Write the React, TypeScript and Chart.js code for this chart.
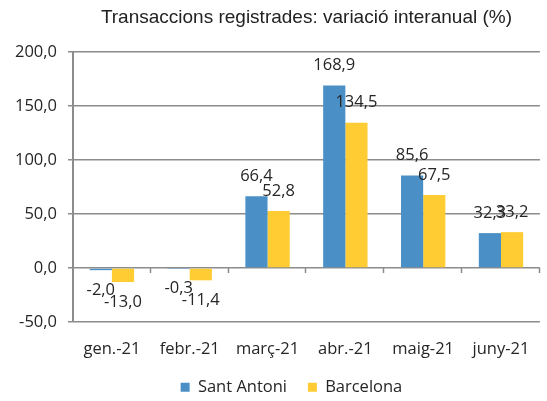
import React, { useEffect, useRef } from "react";
import { Chart, registerables } from "chart.js";

Chart.register(...registerables);

const TITLE = "Transaccions registrades: variació interanual (%)";
const CATEGORIES = ["gen.-21", "febr.-21", "març-21", "abr.-21", "maig-21", "juny-21"];
const SANT_ANTONI = [-2.0, -0.3, 66.4, 168.9, 85.6, 32.3];
const BARCELONA = [-13.0, -11.4, 52.8, 134.5, 67.5, 33.2];
const SERIES_NAMES = ["Sant Antoni", "Barcelona"];
const Y_MIN = -50;
const Y_MAX = 200;
const Y_STEP = 50;

const BLUE = "#4A8FC6";
const YELLOW = "#FFCC33";
const GRID = "#8c8c8c";
const TEXT = "#262626";
const FONT = "'Open Sans', 'Noto Sans', sans-serif";
const FS = 16.5;

const fmt = (v: number) => v.toFixed(1).replace(".", ",");

const valueLabels = {
  id: "valueLabels",
  afterDatasetsDraw(chart: any) {
    const ctx = chart.ctx;
    ctx.save();
    ctx.font = `${FS}px ${FONT}`;
    ctx.fillStyle = TEXT;
    ctx.textAlign = "center";
    ctx.textBaseline = "middle";
    chart.data.datasets.forEach((ds: any, di: number) => {
      const meta = chart.getDatasetMeta(di);
      meta.data.forEach((bar: any, i: number) => {
        const v = ds.data[i];
        const y = v >= 0 ? bar.y - 20 : bar.y + 20;
        ctx.fillText(fmt(v), bar.x, y);
      });
    });
    ctx.restore();
  },
};

const zeroTicks = {
  id: "zeroTicks",
  afterDraw(chart: any) {
    const { ctx, chartArea } = chart;
    const y0 = chart.scales.y.getPixelForValue(0);
    const n = CATEGORIES.length;
    const w = (chartArea.right - chartArea.left) / n;
    ctx.save();
    ctx.strokeStyle = GRID;
    ctx.lineWidth = 1.5;
    for (let i = 1; i <= n; i++) {
      const x = Math.round(chartArea.left + i * w) - 0.5;
      ctx.beginPath();
      ctx.moveTo(x, y0);
      ctx.lineTo(x, y0 + 5);
      ctx.stroke();
    }
    ctx.restore();
  },
};

export default function App() {
  const ref = useRef<HTMLCanvasElement | null>(null);

  useEffect(() => {
    document.body.style.margin = "0";
    if (!ref.current) return;
    const chart = new Chart(ref.current, {
      type: "bar",
      data: {
        labels: CATEGORIES,
        datasets: [
          {
            label: SERIES_NAMES[0] + "   ",
            data: SANT_ANTONI,
            backgroundColor: BLUE,
            categoryPercentage: 0.57,
            barPercentage: 1,
          },
          {
            label: SERIES_NAMES[1] + "       ",
            data: BARCELONA,
            backgroundColor: YELLOW,
            categoryPercentage: 0.57,
            barPercentage: 1,
          },
        ],
      },
      options: {
        animation: false,
        responsive: true,
        maintainAspectRatio: false,
        layout: { padding: { left: 0, right: 0, top: 0, bottom: 0 } },
        plugins: {
          title: {
            display: true,
            text: TITLE,
            fullSize: false,
            color: "#222",
            font: { family: "'Liberation Sans', Arial, sans-serif", size: 19, weight: "normal" },
            padding: { top: 6, bottom: 23.2 },
          },
          legend: {
            position: "bottom",
            fullSize: false,
            maxHeight: 30,
            labels: {
              boxWidth: 9,
              boxHeight: 9,
              padding: 8,
              color: TEXT,
              font: { family: FONT, size: FS },
            },
          },
          tooltip: { enabled: false },
        },
        scales: {
          x: {
            grid: { display: false, drawTicks: false },
            border: { display: false },
            ticks: { color: TEXT, font: { family: FONT, size: FS }, padding: 17 },
            afterFit(scale: any) {
              scale.height = 49;
            },
          },
          y: {
            min: Y_MIN,
            max: Y_MAX,
            ticks: {
              stepSize: Y_STEP,
              color: TEXT,
              padding: 11,
              font: { family: FONT, size: FS },
              callback: (v: any) => fmt(Number(v)),
            },
            grid: { color: GRID, lineWidth: 1.5, tickLength: 5, tickColor: GRID },
            border: { display: true, color: GRID, width: 2 },
            afterFit(scale: any) {
              scale.width = 73;
            },
          },
        },
      },
      plugins: [valueLabels, zeroTicks],
    });
    return () => chart.destroy();
  }, []);

  return (
    <div style={{ position: "fixed", left: 0, top: 0, width: 547, height: 401, background: "#fff" }}>
      <canvas ref={ref} />
    </div>
  );
}
